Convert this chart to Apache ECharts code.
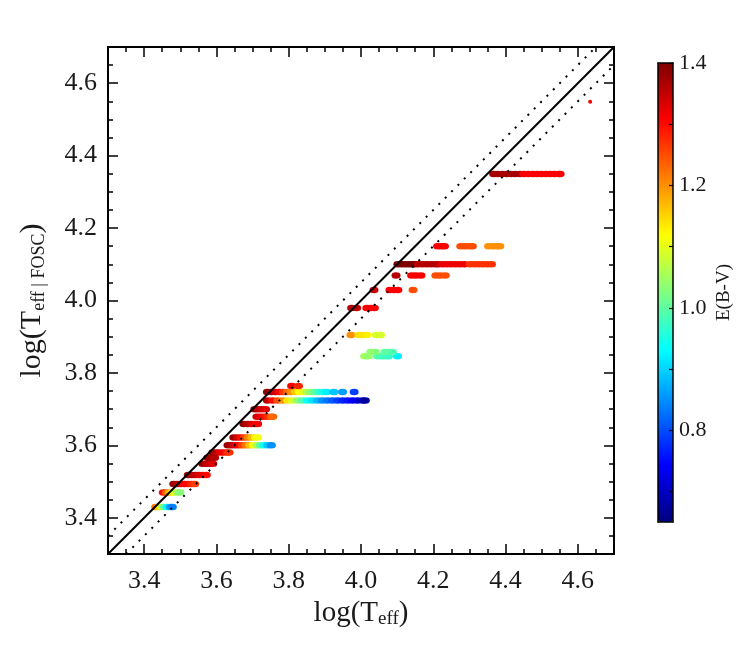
<!DOCTYPE html>
<html>
<head>
<meta charset="utf-8">
<script src="https://cdn.jsdelivr.net/npm/echarts@6/dist/echarts.min.js"></script>
<style>
  html, body { margin: 0; padding: 0; background: #fff; }
  #main { width: 748px; height: 653px; }
</style>
</head>
<body>
<div id="main"></div>
<script>
// one row per horizontal streak: log(Teff), log(Teff | FOSC), E(B-V)
var logTeff = [
  3.432, 3.440, 3.448, 3.456, 3.464, 3.472, 3.478,
  3.453, 3.461, 3.469, 3.477, 3.485, 3.493, 3.499,
  3.482, 3.492, 3.502, 3.512, 3.522, 3.532, 3.540,
  3.522, 3.532, 3.542, 3.552, 3.562, 3.572,
  3.562, 3.572, 3.582, 3.590,
  3.576, 3.586, 3.595,
  3.590, 3.600, 3.610, 3.620, 3.630, 3.635,
  3.632, 3.642, 3.652, 3.662, 3.672, 3.682, 3.692, 3.702, 3.712, 3.722, 3.732, 3.742, 3.752,
  3.648, 3.658, 3.668, 3.678, 3.688, 3.698, 3.708, 3.714,
  3.676, 3.686, 3.696, 3.706, 3.714,
  3.712, 3.722, 3.732, 3.742, 3.752, 3.756,
  3.706, 3.716, 3.726, 3.736,
  3.741, 3.755, 3.769, 3.783, 3.797, 3.810, 3.824, 3.838, 3.852, 3.866, 3.880, 3.893, 3.907, 3.921, 3.935, 3.949, 3.963, 3.976, 3.990, 4.004, 4.012,
  3.741, 3.752, 3.763, 3.774, 3.785, 3.796, 3.807, 3.818, 3.829, 3.840, 3.851, 3.862, 3.873, 3.884, 3.893, 3.905, 3.925, 3.949, 3.981,
  3.808, 3.827,
  4.010, 4.020, 4.046, 4.056, 4.066, 4.076, 4.101,
  4.027, 4.040, 4.066, 4.077, 4.087,
  3.972, 3.994, 4.004, 4.016, 4.042, 4.054,
  3.974, 3.988, 4.016, 4.027, 4.037,
  4.036, 4.080, 4.091, 4.102, 4.144,
  4.097, 4.140, 4.152, 4.166, 4.207, 4.219, 4.233,
  4.102, 4.112, 4.122, 4.132, 4.142, 4.148, 4.158, 4.170, 4.182, 4.194, 4.206, 4.214,
  4.226, 4.238, 4.250, 4.262, 4.274, 4.286, 4.302, 4.314, 4.326, 4.338, 4.350, 4.361,
  4.212, 4.222, 4.231, 4.276, 4.288, 4.300, 4.308, 4.353, 4.365, 4.377, 4.384,
  4.367, 4.379, 4.391, 4.403, 4.415, 4.427, 4.439, 4.451, 4.463, 4.475, 4.487, 4.499, 4.511, 4.523, 4.535, 4.547, 4.551
];
var logTeffFosc = [
  3.430, 3.430, 3.430, 3.430, 3.430, 3.430, 3.430,
  3.470, 3.470, 3.470, 3.470, 3.470, 3.470, 3.470,
  3.493, 3.493, 3.493, 3.493, 3.493, 3.493, 3.493,
  3.518, 3.518, 3.518, 3.518, 3.518, 3.518,
  3.549, 3.549, 3.549, 3.549,
  3.566, 3.566, 3.566,
  3.580, 3.580, 3.580, 3.580, 3.580, 3.580,
  3.600, 3.600, 3.600, 3.600, 3.600, 3.600, 3.600, 3.600, 3.600, 3.600, 3.600, 3.600, 3.600,
  3.622, 3.622, 3.622, 3.622, 3.622, 3.622, 3.622, 3.622,
  3.659, 3.659, 3.659, 3.659, 3.659,
  3.679, 3.679, 3.679, 3.679, 3.679, 3.679,
  3.700, 3.700, 3.700, 3.700,
  3.724, 3.724, 3.724, 3.724, 3.724, 3.724, 3.724, 3.724, 3.724, 3.724, 3.724, 3.724, 3.724, 3.724, 3.724, 3.724, 3.724, 3.724, 3.724, 3.724, 3.724,
  3.747, 3.747, 3.747, 3.747, 3.747, 3.747, 3.747, 3.747, 3.747, 3.747, 3.747, 3.747, 3.747, 3.747, 3.747, 3.747, 3.747, 3.747, 3.747,
  3.764, 3.764,
  3.846, 3.846, 3.846, 3.846, 3.846, 3.846, 3.846,
  3.858, 3.858, 3.858, 3.858, 3.858,
  3.905, 3.905, 3.905, 3.905, 3.905, 3.905,
  3.979, 3.979, 3.979, 3.979, 3.979,
  4.029, 4.029, 4.029, 4.029, 4.029,
  4.069, 4.069, 4.069, 4.069, 4.069, 4.069, 4.069,
  4.100, 4.100, 4.100, 4.100, 4.100, 4.100, 4.100, 4.100, 4.100, 4.100, 4.100, 4.100,
  4.100, 4.100, 4.100, 4.100, 4.100, 4.100, 4.100, 4.100, 4.100, 4.100, 4.100, 4.100,
  4.150, 4.150, 4.150, 4.150, 4.150, 4.150, 4.150, 4.150, 4.150, 4.150, 4.150,
  4.349, 4.349, 4.349, 4.349, 4.349, 4.349, 4.349, 4.349, 4.349, 4.349, 4.349, 4.349, 4.349, 4.349, 4.349, 4.349, 4.349
];
var ebv = [
  1.22, 1.15, 1.08, 1.00, 0.93, 0.87, 0.84,
  1.30, 1.24, 1.18, 1.13, 1.09, 1.05, 1.03,
  1.38, 1.36, 1.33, 1.31, 1.30, 1.28, 1.26,
  1.38, 1.36, 1.35, 1.33, 1.32, 1.30,
  1.38, 1.36, 1.34, 1.33,
  1.38, 1.37, 1.36,
  1.38, 1.36, 1.33, 1.31, 1.28, 1.27,
  1.38, 1.36, 1.33, 1.30, 1.26, 1.22, 1.17, 1.12, 1.06, 1.00, 0.94, 0.89, 0.85,
  1.38, 1.34, 1.30, 1.26, 1.21, 1.17, 1.13, 1.11,
  1.39, 1.36, 1.34, 1.32, 1.31,
  1.34, 1.32, 1.30, 1.27, 1.24, 1.23,
  1.38, 1.36, 1.34, 1.33,
  1.36, 1.30, 1.25, 1.20, 1.14, 1.09, 1.04, 0.99, 0.94, 0.91, 0.88, 0.85, 0.83, 0.81, 0.79, 0.77, 0.76, 0.74, 0.72, 0.69, 0.67,
  1.39, 1.37, 1.34, 1.31, 1.27, 1.23, 1.20, 1.16, 1.12, 1.10, 1.06, 1.03, 1.00, 0.97, 0.95, 0.92, 0.89, 0.86, 0.79,
  1.31, 1.28,
  1.05, 1.04, 0.99, 0.98, 0.98, 0.97, 0.92,
  1.04, 1.03, 1.00, 1.00, 0.99,
  1.20, 1.14, 1.14, 1.13, 1.09, 1.09,
  1.36, 1.35, 1.31, 1.31, 1.31,
  1.34, 1.31, 1.31, 1.31, 1.25,
  1.36, 1.31, 1.31, 1.31, 1.25, 1.25, 1.25,
  1.40, 1.40, 1.40, 1.40, 1.40, 1.40, 1.36, 1.36, 1.36, 1.36, 1.36, 1.36,
  1.32, 1.32, 1.32, 1.32, 1.32, 1.32, 1.27, 1.27, 1.27, 1.27, 1.27, 1.27,
  1.31, 1.31, 1.31, 1.25, 1.25, 1.25, 1.25, 1.20, 1.20, 1.20, 1.20,
  1.37, 1.37, 1.37, 1.37, 1.37, 1.37, 1.37, 1.31, 1.31, 1.31, 1.31, 1.31, 1.31, 1.31, 1.31, 1.31, 1.31
];
// the lone hot star at the top right
var outlierTeff = [4.634];
var outlierFosc = [4.549];
var outlierEbv = [1.31];

var axisRange = [3.3, 4.7];
var majorTicks = [3.4, 3.6, 3.8, 4.0, 4.2, 4.4, 4.6];
var minorTicks = [3.35, 3.4, 3.45, 3.5, 3.55, 3.6, 3.65, 3.7, 3.75, 3.8, 3.85, 3.9, 3.95, 4.0,
  4.05, 4.1, 4.15, 4.2, 4.25, 4.3, 4.35, 4.4, 4.45, 4.5, 4.55, 4.6, 4.65];
var dottedOffset = 0.05;
var ebvRange = [0.65, 1.4];
var cbarTicks = [0.7, 0.8, 0.9, 1.0, 1.1, 1.2, 1.3, 1.4];
var cbarLabels = [0.8, 1.0, 1.2, 1.4];
var jet = ['#00007f', '#0000ff', '#007fff', '#00ffff', '#7fff7f', '#ffff00', '#ff7f00', '#ff0000', '#7f0000'];

var points = logTeff.map(function (x, i) { return [x, logTeffFosc[i], ebv[i]]; });
var outlier = outlierTeff.map(function (x, i) { return [x, outlierFosc[i], outlierEbv[i]]; });

var FONT = 'Liberation Serif';
var black = '#000';
var ink = '#1a1a1a';

function boxAxis (pos, ticks, len, extra) {
  var a = {
    gridIndex: 0, position: pos, min: axisRange[0], max: axisRange[1], type: 'value',
    axisLine: {show: true, onZero: false, lineStyle: {color: black, width: 2}},
    axisTick: {show: true, inside: true, length: len, customValues: ticks, lineStyle: {color: black, width: 1.5}},
    axisLabel: {show: false},
    splitLine: {show: false}
  };
  return Object.assign(a, extra || {});
}

var labelStyle = {fontFamily: FONT, fontSize: 26, color: ink};

var option = {
  animation: false,
  backgroundColor: '#fff',
  grid: [
    {left: 108, top: 47, width: 506, height: 507},
    {left: 658, top: 63, width: 15, height: 459}
  ],
  xAxis: [
    boxAxis('bottom', majorTicks, 10, {
      axisLabel: Object.assign({show: true, customValues: majorTicks, margin: 14,
        formatter: function (v) { return v.toFixed(1); }}, labelStyle),
      name: '{a|log(T}{s|eff}{a|)}',
      nameLocation: 'middle',
      nameGap: 44,
      nameTextStyle: {fontFamily: FONT, rich: {
        a: {fontFamily: FONT, fontSize: 29, color: ink},
        s: {fontFamily: FONT, fontSize: 19, color: ink, verticalAlign: 'bottom', padding: [12, 0, 0, 0]}
      }}
    }),
    boxAxis('bottom', minorTicks, 5),
    boxAxis('top', majorTicks, 10),
    boxAxis('top', minorTicks, 5),
    {gridIndex: 1, position: 'bottom', min: 0, max: 1, z: 10, axisLine: {onZero: false, lineStyle: {color: black, width: 1.5}},
      axisTick: {show: false}, axisLabel: {show: false}, splitLine: {show: false}},
    {gridIndex: 1, position: 'top', min: 0, max: 1, z: 10, axisLine: {onZero: false, lineStyle: {color: black, width: 1.5}},
      axisTick: {show: false}, axisLabel: {show: false}, splitLine: {show: false}}
  ],
  yAxis: [
    boxAxis('left', majorTicks, 10, {
      axisLabel: Object.assign({show: true, customValues: majorTicks, margin: 11,
        formatter: function (v) { return v.toFixed(1); }}, labelStyle),
      name: '{a|log(T}{s|eff | FOSC}{a|)}',
      nameLocation: 'middle',
      nameRotate: 90,
      nameGap: 60,
      nameTextStyle: {fontFamily: FONT, rich: {
        a: {fontFamily: FONT, fontSize: 30, color: ink},
        s: {fontFamily: FONT, fontSize: 18, color: ink, verticalAlign: 'bottom', padding: [13, 0, 0, 0]}
      }}
    }),
    boxAxis('left', minorTicks, 5),
    boxAxis('right', majorTicks, 10),
    boxAxis('right', minorTicks, 5),
    {gridIndex: 1, position: 'left', min: ebvRange[0], max: ebvRange[1], z: 10,
      axisLine: {onZero: false, lineStyle: {color: black, width: 1.5}},
      axisTick: {show: false}, axisLabel: {show: false}, splitLine: {show: false}},
    {gridIndex: 1, position: 'right', min: ebvRange[0], max: ebvRange[1], z: 10,
      axisLine: {onZero: false, lineStyle: {color: black, width: 1.5}},
      axisTick: {show: true, inside: true, length: 4, customValues: cbarTicks, lineStyle: {color: black, width: 1.2}},
      axisLabel: {show: true, customValues: cbarLabels, margin: 6, fontFamily: FONT, fontSize: 22, color: ink,
        formatter: function (v) { return v.toFixed(1); }},
      splitLine: {show: false},
      name: 'E(B-V)',
      nameLocation: 'middle',
      nameRotate: 90,
      nameGap: 42,
      nameTextStyle: {fontFamily: FONT, fontSize: 19, color: ink}}
  ],
  visualMap: {
    type: 'continuous',
    min: ebvRange[0],
    max: ebvRange[1],
    dimension: 2,
    seriesIndex: [0, 1],
    orient: 'vertical',
    left: 658,
    top: 63,
    itemWidth: 15,
    itemHeight: 459,
    padding: 0,
    calculable: false,
    hoverLink: false,
    text: null,
    inRange: {color: jet}
  },
  series: [
    {
      type: 'scatter', xAxisIndex: 0, yAxisIndex: 0,
      symbol: 'circle', symbolSize: [9, 6.5],
      itemStyle: {opacity: 1},
      data: points
    },
    {
      type: 'scatter', xAxisIndex: 0, yAxisIndex: 0,
      symbol: 'circle', symbolSize: 4,
      itemStyle: {opacity: 1},
      data: outlier
    },
    {
      type: 'line', xAxisIndex: 0, yAxisIndex: 0, z: 5,
      symbol: 'none', silent: true,
      lineStyle: {color: black, width: 2},
      data: [[axisRange[0], axisRange[0]], [axisRange[1], axisRange[1]]]
    },
    {
      type: 'line', xAxisIndex: 0, yAxisIndex: 0, z: 5,
      symbol: 'none', silent: true,
      lineStyle: {color: black, width: 2, type: [2, 7]},
      data: [[axisRange[0], axisRange[0] + dottedOffset], [axisRange[1] - dottedOffset, axisRange[1]]]
    },
    {
      type: 'line', xAxisIndex: 0, yAxisIndex: 0, z: 5,
      symbol: 'none', silent: true,
      lineStyle: {color: black, width: 2, type: [2, 7]},
      data: [[axisRange[0] + dottedOffset, axisRange[0]], [axisRange[1], axisRange[1] - dottedOffset]]
    }
  ]
};

var chart = echarts.init(document.getElementById('main'), null, {renderer: 'canvas'});
chart.setOption(option);
</script>
</body>
</html>
